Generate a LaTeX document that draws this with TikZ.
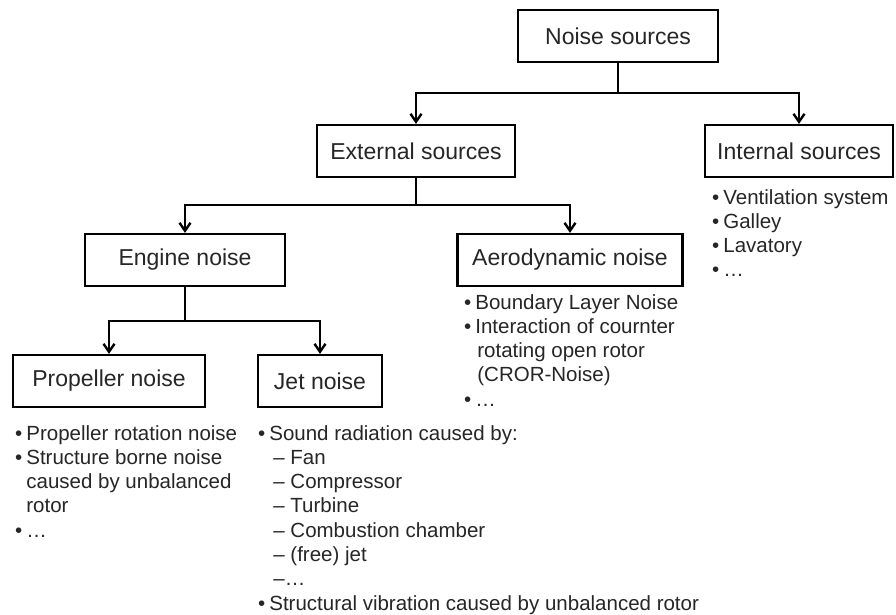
\documentclass[tikz,border=0pt]{standalone}
\usepackage{fontspec}
\setmainfont{Liberation Sans}
\usetikzlibrary{arrows.meta}
\begin{document}
\begin{tikzpicture}[x=1pt,y=-1pt,
  box/.style={draw=black,line width=2.2pt,minimum height=52pt,inner sep=0pt,
    text=black!85,font=\fontsize{23}{27}\selectfont},
  conn/.style={line width=2.2pt,-{Straight Barb[length=8pt,width=11pt,line width=2.4pt]}},
  list/.style={anchor=base west,inner sep=0pt,text=black!85,font=\fontsize{20.5}{24.3}\selectfont}]
\useasboundingbox[fill=white] (0,0) rectangle (896,614);
% boxes
\node[box,minimum width=200pt] (noise) at (618,36) {Noise sources};
\node[box,minimum width=198pt] (ext) at (416,151) {External sources};
\node[box,minimum width=188pt] (int) at (799,151) {Internal sources};
\node[box,minimum width=200pt] (eng) at (185,260) {Engine noise};
\node[box,minimum width=225pt] (aero) at (570,260) {Aerodynamic noise};
\node[box,minimum width=192pt] (prop) at (109,381) {Propeller noise};
\node[box,minimum width=124pt] (jet) at (320,381) {Jet noise};
% junctions
\coordinate (j1) at (618,93);
\coordinate (j2) at (416,205);
\coordinate (j3) at (185,321);
% connectors
\draw[line width=2.2pt] (noise.south) -- (j1);
\draw[conn] (j1) -| (ext.north);
\draw[conn] (j1) -| (int.north);
\draw[line width=2.2pt] (ext.south) -- (j2);
\draw[conn] (j2) -| (eng.north);
\draw[conn] (j2) -| (aero.north);
\draw[line width=2.2pt] (eng.south) -- (j3);
\draw[conn] (j3) -| (prop.north);
\draw[conn] (j3) -| (jet.north);
% lists
\node[list] (intl) at (712,204) {\begin{tabular}[t]{@{}l@{\hspace{4pt}}l@{}}
•&Ventilation system\\
•&Galley\\
•&Lavatory\\
•&…
\end{tabular}};
\node[list] (aerol) at (464,309) {\begin{tabular}[t]{@{}l@{\hspace{4pt}}l@{}}
•&Boundary Layer Noise\\
•&Interaction of cournter\\
&\hspace{2pt}rotating open rotor\\
&\hspace{2pt}(CROR-Noise)\\
•&…
\end{tabular}};
\node[list] (propl) at (15,440) {\begin{tabular}[t]{@{}l@{\hspace{4pt}}l@{}}
•&Propeller rotation noise\\
•&Structure borne noise\\
&caused by unbalanced\\
&rotor\\
•&…
\end{tabular}};
\node[list] (jetl) at (258,440) {\begin{tabular}[t]{@{}l@{\hspace{4pt}}l@{}}
•&Sound radiation caused by:\\
&\hspace{4pt}– Fan\\
&\hspace{4pt}– Compressor\\
&\hspace{4pt}– Turbine\\
&\hspace{4pt}– Combustion chamber\\
&\hspace{4pt}– (free) jet\\
&\hspace{4pt}–…\\
•&Structural vibration caused by unbalanced rotor
\end{tabular}};
\end{tikzpicture}
\end{document}
